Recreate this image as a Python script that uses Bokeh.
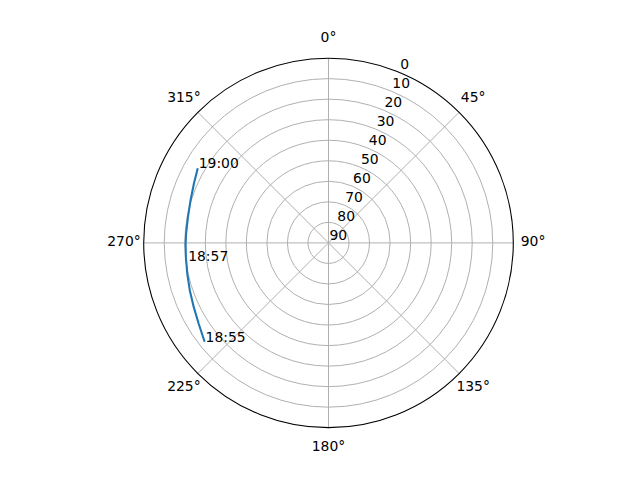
import numpy as np
from bokeh.plotting import figure
from bokeh.core.properties import value
from bokeh.embed import file_html
from bokeh.resources import INLINE

# satellite pass (azimuth deg, elevation deg)
azimuth = [231.4, 238.0, 244.5, 251.1, 257.7, 264.3, 269.6, 273.7, 280.4, 287.1, 293.7, 299.7]
elevation = [12.8, 15.5, 17.3, 18.6, 19.6, 20.2, 20.4, 20.5, 20.4, 19.7, 18.4, 16.7]

# time annotations
label_times = ["18:55", "18:57", "19:00"]
label_az = [231.4, 262.6, 299.7]
label_el = [12.8, 20.6, 16.7]

r_ticks = [0, 10, 20, 30, 40, 50, 60, 70, 80, 90]
theta_ticks = [0, 45, 90, 135, 180, 225, 270, 315]
theta_labels = ["0°", "45°", "90°", "135°", "180°", "225°", "270°", "315°"]

FONT = value("DejaVu Sans")
GRID = "#b0b0b0"


def to_xy(az, el):
    # north up, clockwise, 90 deg elevation in the centre
    a = np.radians(np.asarray(az, dtype=float))
    r = 90.0 - np.asarray(el, dtype=float)
    return r * np.sin(a), r * np.cos(a)


W, H = 624, 464
scale = 184.8 / 90.0  # pixels per unit
cx, cy = 328.0, 242.4  # centre of the polar axes in figure pixels

p = figure(width=W, height=H, output_backend="svg", toolbar_location=None,
           x_range=(-cx / scale, (W - cx) / scale),
           y_range=(-(H - cy) / scale, cy / scale),
           x_axis_type=None, y_axis_type=None, min_border=0,
           background_fill_color="white", border_fill_color="white")
p.outline_line_color = None
p.grid.visible = False

# rings
rings = [90 - v for v in r_ticks[1:-1]]
p.circle([0] * len(rings), [0] * len(rings), radius=rings,
         fill_color=None, line_color=GRID, line_width=1)

# spokes
xs, ys = [], []
for t in theta_ticks:
    ex, ey = to_xy([t], [0])
    xs.append([0, ex[0]])
    ys.append([0, ey[0]])
p.multi_line(xs, ys, line_color=GRID, line_width=1)

# outer edge
p.circle([0], [0], radius=90, fill_color=None, line_color="black", line_width=1.1)

# elevation labels along 22.5 deg
rx, ry = to_xy([22.5] * len(r_ticks), r_ticks)
p.text(rx, ry, text=[str(v) for v in r_ticks], text_font=FONT, text_font_size="13.9px",
       text_align="left", text_baseline="bottom", text_color="black", x_offset=1, y_offset=-3)

# azimuth labels
tx, ty = to_xy(theta_ticks, [-9.6] * len(theta_ticks))
p.text(tx, ty, text=theta_labels, text_font=FONT, text_font_size="13.9px",
       text_align="center", text_baseline="middle", text_color="black", y_offset=-1.5)

# the pass
px, py = to_xy(azimuth, elevation)
p.line(px, py, line_color="#1f77b4", line_width=2.1)

lx, ly = to_xy(label_az, label_el)
p.text(lx, ly, text=label_times, text_font=FONT, text_font_size="13.9px",
       text_align="left", text_baseline="alphabetic", text_color="black", x_offset=1, y_offset=-5)

open("out.html", "w").write(file_html(p, INLINE))
